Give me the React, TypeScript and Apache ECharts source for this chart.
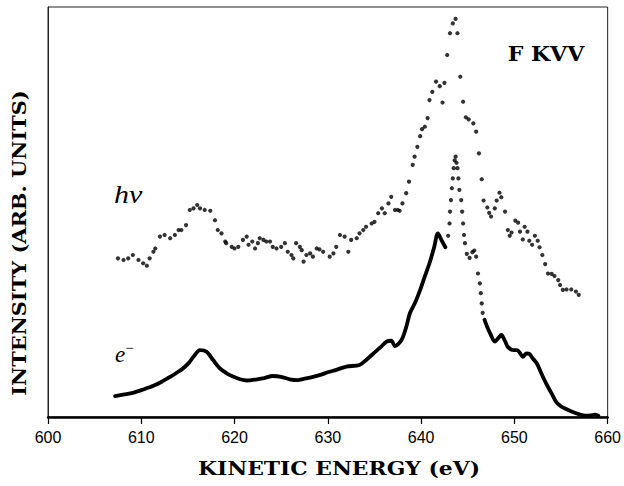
import React, { useEffect, useRef } from "react";
import * as echarts from "echarts";

// Photon-excited (hν) F KVV Auger spectrum, plotted as individual points
const hvEnergy = [
  607.5, 608.1, 608.6, 609.1, 609.7, 610.2, 610.6, 610.9, 611.3, 611.5,
  612.0, 612.5, 613.1, 613.6, 614.0, 614.3, 614.8, 615.2, 615.6, 616.0,
  616.3, 616.8, 617.4, 617.9, 618.2, 618.6, 619.0, 619.1, 619.7, 620.0,
  620.4, 620.9, 621.3, 621.5, 621.9, 622.2, 622.5, 622.7, 623.1, 623.4,
  623.8, 624.1, 624.5, 625.0, 625.4, 625.7, 626.1, 626.3, 626.6, 627.0,
  627.2, 627.4, 627.7, 628.1, 628.4, 628.8, 629.1, 629.5, 630.2, 630.6,
  630.9, 631.3, 631.8, 632.2, 632.5, 633.1, 633.4, 633.8, 634.1, 634.7,
  635.0, 635.4, 635.8, 636.1, 636.5, 636.8, 637.2, 637.5, 637.7, 638.0,
  638.4, 638.7, 639.1, 639.3, 639.6, 639.9, 640.1, 640.4, 640.7, 640.9,
  641.2, 641.6, 642.0, 642.3, 642.5, 642.8, 643.1, 643.4, 643.7, 643.9,
  644.2, 644.5, 644.8, 645.1, 645.6, 645.9, 646.2, 646.5, 646.7, 647.1,
  647.3, 647.5, 647.9, 648.1, 648.4, 648.6, 649.0, 649.3, 649.5, 649.7,
  650.1, 650.4, 650.6, 650.9, 651.1, 651.4, 651.6, 651.9, 652.2, 652.5,
  652.7, 653.0, 653.3, 653.6, 654.0, 654.3, 654.7, 654.9, 655.2, 655.6,
  656.1, 656.6, 656.9,
];
const hvIntensity = [
  38.7, 38.3, 38.7, 39.5, 38.3, 37.5, 36.9, 38.7, 40.3, 41.1,
  44.0, 44.4, 43.6, 44.4, 45.6, 45.6, 46.8, 50.5, 50.9, 51.7,
  50.9, 50.5, 50.3, 48.0, 45.6, 44.8, 42.8, 42.4, 41.5, 41.1,
  41.5, 43.2, 44.0, 42.0, 42.8, 41.1, 42.4, 43.6, 43.2, 42.8,
  42.8, 41.5, 41.1, 41.5, 42.4, 40.3, 39.5, 38.7, 42.4, 41.5,
  40.7, 37.9, 39.5, 39.9, 39.1, 41.1, 40.9, 40.3, 39.1, 39.9,
  41.5, 44.4, 44.0, 40.3, 43.2, 43.6, 44.8, 45.6, 46.4, 47.2,
  47.6, 49.7, 50.9, 49.7, 52.1, 53.7, 50.5, 50.5, 50.3, 52.1,
  54.6, 57.4, 61.5, 63.5, 65.9, 68.5, 70.2, 70.8, 72.9, 77.3,
  79.3, 81.8, 80.7, 76.7, 81.5, 88.3, 93.6, 96.0, 97.1, 93.6,
  83.0, 76.9, 73.1, 72.6, 71.6, 69.6, 64.3, 58.0, 52.8, 51.1,
  49.8, 48.9, 50.9, 52.8, 54.7, 53.6, 50.1, 45.6, 44.2, 45.0,
  47.9, 47.4, 45.2, 43.3, 46.4, 45.2, 43.0, 42.0, 44.2, 43.0,
  41.4, 39.5, 37.3, 35.0, 34.9, 34.4, 33.4, 32.2, 31.0, 31.1,
  31.1, 30.6, 29.8,
];

// Electron-excited (e⁻) spectrum: continuous trace below the main peak
const eLowEnergy = [
  607.2, 608.2, 609.1, 610.2, 611.3, 612.2, 613.1, 613.8, 614.5, 615.1,
  615.6, 616.3, 617.0, 617.7, 618.4, 619.2, 619.9, 620.6, 621.3, 622.4,
  623.2, 624.1, 625.0, 625.9, 626.8, 627.4, 628.1, 629.1, 630.0, 630.9,
  632.0, 633.4, 634.2, 634.9, 635.6, 636.3, 636.8, 637.2, 637.9, 638.4,
  638.8, 639.4, 639.9, 640.4, 640.9, 641.4, 641.8, 642.2, 642.6,
];
const eLowIntensity = [
  5.1, 5.5, 5.9, 6.7, 7.6, 8.6, 9.8, 10.8, 11.9, 13.2,
  14.7, 16.3, 15.9, 13.9, 11.9, 10.6, 9.8, 9.2, 8.9, 9.2,
  9.5, 10.0, 9.8, 9.2, 9.0, 9.3, 9.6, 10.2, 10.9, 11.5,
  12.3, 12.7, 14.1, 15.5, 16.9, 18.4, 18.6, 17.3, 18.8, 21.9,
  25.3, 28.1, 31.0, 34.3, 37.5, 41.4, 44.8, 43.1, 41.4,
];

// Sharp e⁻ maximum, recorded as separate points
const ePeakEnergy = [
  642.9, 643.05, 643.1, 643.2, 643.3, 643.4, 643.5, 643.6, 643.7, 643.8,
  643.9, 644.0, 644.1, 644.3, 644.4, 644.5, 644.6, 644.7, 644.9, 645.2,
  645.5, 645.7, 645.9, 646.1, 646.3, 646.4, 646.5, 646.6,
];
const ePeakIntensity = [
  44.2, 47.2, 50.1, 52.9, 55.8, 58.2, 60.7, 62.6, 63.5, 62.0,
  60.7, 58.2, 55.4, 52.9, 50.1, 47.2, 44.4, 42.4, 39.8, 38.8,
  40.2, 40.6, 39.1, 35.0, 32.6, 30.2, 27.7, 25.4,
];

// e⁻ trace above the main peak
const eHighEnergy = [
  646.8, 647.1, 647.4, 647.9, 648.3, 648.6, 649.0, 649.3, 649.9, 650.3,
  650.6, 650.9, 651.3, 651.6, 652.0, 652.4, 652.9, 653.4, 654.0, 654.5,
  655.0, 655.6, 656.2, 656.9, 657.6, 658.2, 658.6, 659.0,
];
const eHighIntensity = [
  23.7, 21.9, 20.4, 18.4, 19.3, 20.0, 18.5, 17.1, 16.3, 16.3,
  15.6, 14.7, 15.5, 15.4, 14.2, 13.1, 10.6, 8.2, 5.7, 3.6,
  2.6, 1.9, 1.3, 0.7, 0.3, 0.4, 0.6, 0.3,
];

const xTicks = [600, 610, 620, 630, 640, 650, 660];

const pairs = (xs: number[], ys: number[]) => xs.map((x, i) => [x, ys[i]]);

const serif = "'DejaVu Serif', 'Liberation Serif', serif";
const italicSerif = "'Liberation Serif', 'DejaVu Serif', serif";

export default function App() {
  const ref = useRef<HTMLDivElement>(null);

  useEffect(() => {
    if (!ref.current) return;
    const chart = echarts.init(ref.current, undefined, { renderer: "svg" });
    chart.setOption({
      animation: false,
      backgroundColor: "#fff",
      grid: {
        left: 48,
        right: 16,
        top: 7,
        bottom: 69,
        show: true,
        borderColor: "#222",
        borderWidth: 1,
      },
      xAxis: {
        type: "value",
        min: xTicks[0],
        max: xTicks[xTicks.length - 1],
        interval: 10,
        axisLine: { show: true, lineStyle: { color: "#000", width: 2.5 } },
        axisTick: {
          show: true,
          inside: false,
          length: 7,
          lineStyle: { color: "#000", width: 1.2 },
        },
        axisLabel: {
          fontFamily: "'Liberation Sans', Arial, sans-serif",
          fontSize: 16,
          color: "#000",
          margin: 12,
        },
        splitLine: { show: false },
      },
      yAxis: {
        type: "value",
        min: 0,
        max: 100,
        axisLine: { show: true, lineStyle: { color: "#222", width: 1 } },
        axisTick: { show: false },
        axisLabel: { show: false },
        splitLine: { show: false },
      },
      graphic: [
        {
          type: "text",
          x: 339,
          y: 469,
          scaleX: 1.15,
          style: {
            text: "KINETIC ENERGY (eV)",
            font: `bold 19px ${serif}`,
            fill: "#000",
            align: "center",
            verticalAlign: "middle",
          },
        },
        {
          type: "text",
          x: 19,
          y: 243,
          rotation: Math.PI / 2,
          scaleX: 1.1,
          style: {
            text: "INTENSITY (ARB. UNITS)",
            font: `bold 19px ${serif}`,
            fill: "#000",
            align: "center",
            verticalAlign: "middle",
          },
        },
        {
          type: "text",
          x: 546,
          y: 54,
          scaleX: 1.1,
          style: {
            text: "F KVV",
            font: `bold 20px ${serif}`,
            fill: "#000",
            align: "center",
            verticalAlign: "middle",
          },
        },
        {
          type: "text",
          x: 114,
          y: 182,
          scaleX: 1.2,
          style: {
            text: "hν",
            font: `italic 25px ${italicSerif}`,
            fill: "#000",
          },
        },
        {
          type: "text",
          left: 115,
          top: 340,
          style: {
            text: "{e|e}{m|−}",
            rich: {
              e: { font: `italic 23px ${italicSerif}`, fill: "#000" },
              m: {
                font: `15px ${italicSerif}`,
                fill: "#000",
                verticalAlign: "top",
                padding: [0, 0, 14, 0],
              },
            },
          },
        },
      ],
      series: [
        {
          name: "hν",
          type: "scatter",
          data: pairs(hvEnergy, hvIntensity),
          symbol: "circle",
          symbolSize: 4.2,
          itemStyle: { color: "#000" },
        },
        {
          name: "e⁻ low",
          type: "line",
          data: pairs(eLowEnergy, eLowIntensity),
          showSymbol: false,
          smooth: 0.3,
          lineStyle: { color: "#000", width: 3.8, join: "round", cap: "round" },
        },
        {
          name: "e⁻ peak",
          type: "scatter",
          data: pairs(ePeakEnergy, ePeakIntensity),
          symbol: "circle",
          symbolSize: 4.2,
          itemStyle: { color: "#000" },
        },
        {
          name: "e⁻ high",
          type: "line",
          data: pairs(eHighEnergy, eHighIntensity),
          showSymbol: false,
          smooth: 0.3,
          lineStyle: { color: "#000", width: 3.8, join: "round", cap: "round" },
        },
      ],
    });
    return () => chart.dispose();
  }, []);

  return (
    <div
      ref={ref}
      style={{ position: "absolute", left: 0, top: 0, width: 624, height: 486 }}
    />
  );
}
